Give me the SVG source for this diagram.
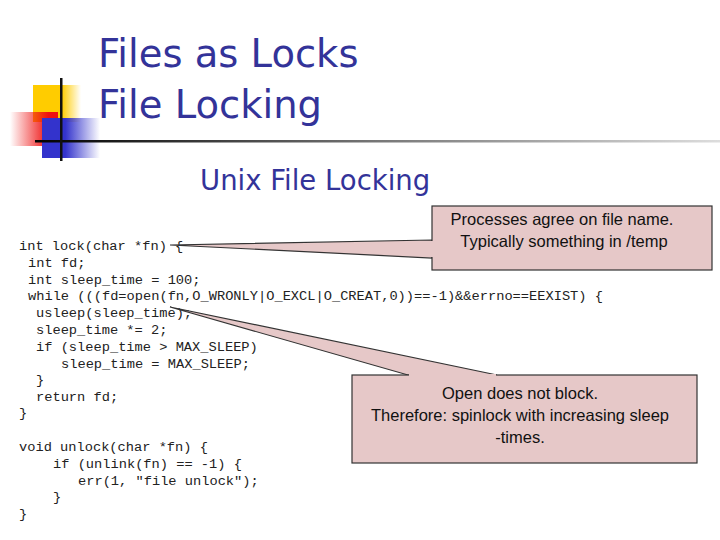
<svg xmlns="http://www.w3.org/2000/svg" width="720" height="540" viewBox="0 0 720 540">
<defs>
<linearGradient id="hl" x1="0" x2="1" y1="0" y2="0"><stop offset="0" stop-color="#000"/><stop offset="0.5" stop-color="#777"/><stop offset="1" stop-color="#ddd"/></linearGradient>
<linearGradient id="yl" x1="0" x2="1"><stop offset="0.6" stop-color="#ffcc00"/><stop offset="1" stop-color="#ffcc00" stop-opacity="0"/></linearGradient>
<linearGradient id="rd" x1="1" x2="0"><stop offset="0.2" stop-color="#ee1111"/><stop offset="1" stop-color="#ee1111" stop-opacity="0"/></linearGradient>
<linearGradient id="bl" x1="0" x2="1"><stop offset="0.4" stop-color="#3333cc"/><stop offset="1" stop-color="#3333cc" stop-opacity="0"/></linearGradient>
<style>
.code{font-family:"Liberation Mono",monospace;font-size:13.7px;fill:#222}
.t{font-family:"DejaVu Sans","Liberation Sans",sans-serif;fill:#333399}
.box{fill:#e6c8c8;stroke:#333;stroke-width:1.2}
.note{font-family:"Liberation Sans",sans-serif;font-size:16.5px;fill:#111;text-anchor:middle}
</style>
</defs>
<g id="deco">
<rect x="33" y="85" width="48" height="37" fill="url(#yl)"/>
<rect x="10" y="112" width="48" height="34" fill="url(#rd)"/>
<rect x="42" y="118" width="58" height="40" fill="url(#bl)"/>
<rect x="35" y="140" width="685" height="2.5" fill="url(#hl)"/>
<rect x="60" y="78" width="2.5" height="83" fill="#111"/>
</g>
<g id="titles">
<text class="t" x="98" y="67" font-size="38.5">Files as Locks</text>
<text class="t" x="98" y="118" font-size="38.5">File Locking</text>
<text class="t" x="200" y="190" font-size="27.5">Unix File Locking</text>
</g>
<g id="code">
<text class="code" x="19" y="250">int lock(char *fn) {</text>
<text class="code" x="28" y="267">int fd;</text>
<text class="code" x="28" y="284">int sleep_time = 100;</text>
<text class="code" x="28" y="300">while (((fd=open(fn,O_WRONLY|O_EXCL|O_CREAT,0))==-1)&amp;&amp;errno==EEXIST) {</text>
<text class="code" x="36" y="317">usleep(sleep_time);</text>
<text class="code" x="36" y="334">sleep_time *= 2;</text>
<text class="code" x="36" y="351">if (sleep_time &gt; MAX_SLEEP)</text>
<text class="code" x="61" y="368">sleep_time = MAX_SLEEP;</text>
<text class="code" x="36" y="384">}</text>
<text class="code" x="36" y="401">return fd;</text>
<text class="code" x="19" y="417">}</text>
<text class="code" x="19" y="451">void unlock(char *fn) {</text>
<text class="code" x="53" y="468">if (unlink(fn) == -1) {</text>
<text class="code" x="78" y="485">err(1, "file unlock");</text>
<text class="code" x="53" y="501">}</text>
<text class="code" x="19" y="518">}</text>
</g>
<g id="connectors">
<polygon class="box" points="170,245 432,240 432,258"/>
<polygon class="box" points="170,307 408,375 497,375"/>
</g>
<g id="note1">
<rect class="box" x="432" y="206" width="280" height="64"/>
<rect x="431" y="241" width="3" height="16" fill="#e6c8c8"/>
<text class="note" x="562" y="225">Processes agree on file name.</text>
<text class="note" x="564" y="247">Typically something in /temp</text>
</g>
<g id="note2">
<rect class="box" x="352" y="375" width="345" height="88"/>
<rect x="409" y="374" width="87" height="3" fill="#e6c8c8"/>
<text class="note" x="520" y="399">Open does not block.</text>
<text class="note" x="520" y="421">Therefore: spinlock with increasing sleep</text>
<text class="note" x="520" y="443">-times.</text>
</g>
</svg>
